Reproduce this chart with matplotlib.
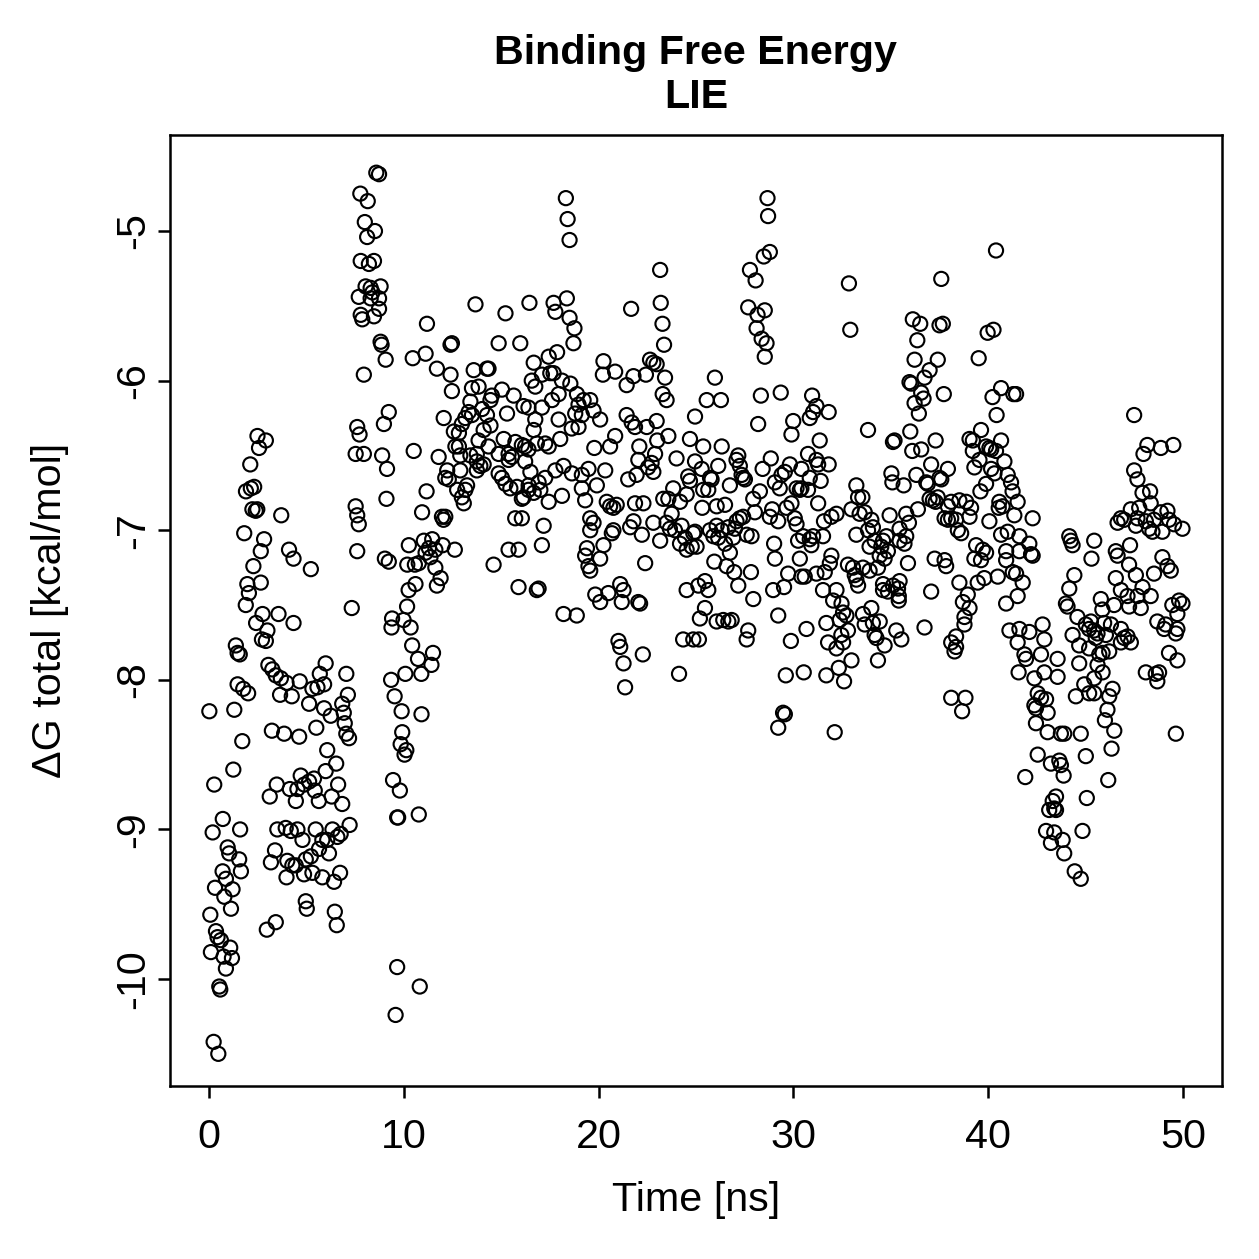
#!/usr/bin/env python3
"""
Binding free energy (LIE) over simulation time, R-style scatter plot.
"""

import numpy as np
import matplotlib
matplotlib.use("Agg")
import matplotlib.pyplot as plt

# (time [ns], dG total [kcal/mol]), split by time window
seg_0_8 = [
    (1.89, -7.50), (2.75, -7.56), (3.57, -7.56), (2.42, -7.62), (4.34, -7.62), (3.00, -7.67),
    (2.72, -7.73), (2.92, -7.74), (1.38, -7.77), (1.47, -7.82), (1.58, -7.83), (3.05, -7.90),
    (3.25, -7.93), (3.43, -7.97), (3.69, -7.99), (3.98, -8.02), (4.66, -8.01), (5.99, -7.89),
    (5.69, -7.96), (5.91, -8.03), (5.57, -8.05), (5.31, -8.06), (1.47, -8.03), (1.76, -8.06),
    (2.01, -8.09), (3.65, -8.10), (4.25, -8.11), (7.05, -7.96), (7.13, -8.10), (5.14, -8.16),
    (0.02, -8.21), (1.30, -8.20), (5.91, -8.19), (6.25, -8.24), (6.84, -8.16), (6.92, -8.22),
    (6.97, -8.29), (7.05, -8.36), (7.19, -8.39), (5.51, -8.32), (3.23, -8.34), (3.86, -8.36),
    (4.63, -8.38), (1.71, -8.41), (6.07, -8.47), (6.53, -8.56), (5.99, -8.61), (1.25, -8.60),
    (0.27, -8.70), (4.71, -8.64), (5.39, -8.66), (5.14, -8.68), (4.89, -8.70), (4.54, -8.73),
    (4.15, -8.73), (3.48, -8.70), (3.12, -8.78), (4.46, -8.81), (5.43, -8.74), (5.64, -8.81),
    (6.30, -8.78), (6.63, -8.70), (6.84, -8.83), (0.71, -8.93), (0.19, -9.02), (1.60, -9.00),
    (0.96, -9.12), (1.04, -9.16), (1.55, -9.20), (1.64, -9.28), (0.70, -9.28), (0.87, -9.33),
    (0.31, -9.39), (1.21, -9.40), (0.79, -9.45), (1.13, -9.53), (0.07, -9.57), (3.51, -9.00),
    (3.94, -8.99), (4.20, -9.01), (4.54, -9.00), (4.80, -9.07), (5.48, -9.00), (6.34, -9.00),
    (6.76, -9.03), (6.59, -9.05), (6.07, -9.07), (5.82, -9.07), (5.65, -9.13), (6.16, -9.16),
    (7.22, -8.97), (3.39, -9.14), (3.18, -9.22), (4.02, -9.21), (4.28, -9.24), (4.45, -9.24),
    (4.97, -9.20), (5.23, -9.18), (3.98, -9.32), (4.88, -9.30), (5.31, -9.29), (5.82, -9.32),
    (6.42, -9.35), (6.73, -9.29), (4.97, -9.48), (5.02, -9.53), (6.46, -9.55), (6.56, -9.64),
    (3.43, -9.62), (2.97, -9.67), (0.10, -9.82), (0.36, -9.68), (0.44, -9.72), (0.61, -9.74),
    (1.09, -9.79), (0.75, -9.85), (1.18, -9.86), (0.87, -9.93), (0.53, -10.05), (0.58, -10.07),
    (0.24, -10.42), (0.48, -10.50),
    (2.49, -6.37), (2.92, -6.40), (2.57, -6.45), (2.12, -6.56), (1.90, -6.74), (2.15, -6.72),
    (2.32, -6.71), (2.23, -6.86), (2.40, -6.87), (2.48, -6.86), (3.71, -6.90), (1.81, -7.02),
    (2.83, -7.06), (2.66, -7.14), (4.11, -7.13), (4.34, -7.19), (5.23, -7.26), (2.28, -7.24),
    (1.97, -7.36), (2.66, -7.35), (2.05, -7.42), (7.33, -7.52),
]

seg_8_13 = [
    (8.59, -4.61), (8.73, -4.62), (7.77, -4.75), (8.15, -4.80), (8.00, -4.94), (8.52, -5.00),
    (8.12, -5.04), (7.79, -5.20), (8.21, -5.22), (8.47, -5.20), (8.04, -5.37), (8.30, -5.38),
    (8.81, -5.37), (8.39, -5.41), (7.69, -5.44), (8.30, -5.45), (8.73, -5.45), (8.73, -5.52),
    (7.79, -5.56), (7.87, -5.59), (8.47, -5.57), (8.81, -5.74), (8.86, -5.76), (9.07, -5.86),
    (7.95, -5.96), (9.23, -6.21), (8.98, -6.29), (7.61, -6.31), (7.73, -6.36), (7.53, -6.49),
    (7.95, -6.49), (8.89, -6.50), (9.14, -6.59), (9.11, -6.79), (7.53, -6.84), (7.61, -6.90),
    (7.69, -6.96), (7.61, -7.14), (9.03, -7.19), (9.23, -7.21), (9.40, -7.59), (9.99, -7.60),
    (10.17, -7.51), (10.25, -7.40), (10.60, -7.36), (11.70, -7.37), (11.89, -7.32), (11.62, -7.25),
    (10.26, -7.10), (10.57, -7.23), (10.18, -7.23), (10.77, -7.22), (11.03, -7.07), (11.46, -7.06),
    (11.29, -7.12), (11.12, -7.15), (11.37, -7.18), (11.62, -7.13), (12.00, -7.10), (12.62, -7.13),
    (10.94, -6.88), (11.96, -6.91), (12.04, -6.93), (12.13, -6.91), (11.17, -6.74), (10.51, -6.47),
    (11.79, -6.51), (12.05, -6.25), (11.19, -5.62), (10.46, -5.85), (11.12, -5.82), (11.70, -5.92),
    (12.40, -5.96), (12.40, -5.76), (12.47, -5.75), (12.47, -6.07),
    (9.37, -7.65), (10.35, -7.65), (10.43, -7.77), (10.73, -7.86), (11.50, -7.82), (11.42, -7.90),
    (10.90, -7.96), (10.08, -7.96), (9.35, -8.00), (9.53, -8.11), (9.89, -8.21), (10.91, -8.23),
    (9.92, -8.35), (9.84, -8.43), (10.13, -8.47), (10.04, -8.50), (9.45, -8.67), (9.80, -8.74),
    (9.66, -8.92), (9.71, -8.92), (10.77, -8.90), (9.66, -9.92), (10.82, -10.05), (9.58, -10.24),
]

seg_13_25 = [
    (13.68, -5.49), (15.22, -5.55), (16.45, -5.48), (14.87, -5.75), (15.98, -5.75), (13.59, -5.93),
    (14.27, -5.92), (14.35, -5.92), (13.50, -6.05), (13.84, -6.04), (14.45, -6.13), (14.52, -6.10),
    (15.04, -6.06), (15.64, -6.10), (15.30, -6.22), (13.42, -6.14), (13.33, -6.21), (13.50, -6.23),
    (13.16, -6.25), (12.98, -6.29), (14.02, -6.19), (14.27, -6.23), (14.45, -6.30), (14.10, -6.33),
    (12.57, -6.34), (12.83, -6.35), (12.65, -6.44), (12.83, -6.44), (12.90, -6.50), (13.84, -6.40),
    (14.35, -6.44), (13.75, -6.49), (13.42, -6.50), (15.13, -6.39), (15.73, -6.41), (16.06, -6.43),
    (16.23, -6.44), (14.87, -6.49), (15.38, -6.49), (15.55, -6.51), (15.38, -6.53), (16.23, -6.54),
    (13.75, -6.54), (14.10, -6.56), (13.93, -6.57), (13.75, -6.60), (12.23, -6.60), (12.13, -6.65),
    (12.31, -6.66), (12.90, -6.60), (12.74, -6.73), (13.25, -6.70), (13.16, -6.73), (12.98, -6.78),
    (13.08, -6.82), (14.87, -6.62), (15.04, -6.65), (15.22, -6.69), (15.47, -6.72), (15.81, -6.71),
    (16.06, -6.79), (16.40, -6.73), (15.72, -6.92), (16.06, -6.92), (15.38, -7.13), (15.89, -7.13),
    (14.61, -7.23), (15.89, -7.38),
    (18.32, -4.78), (18.41, -4.92), (18.51, -5.06), (23.16, -5.26), (17.69, -5.48), (17.78, -5.54),
    (18.37, -5.45), (18.51, -5.58), (18.76, -5.65), (18.71, -5.75), (21.67, -5.52), (23.19, -5.48),
    (23.28, -5.62), (23.36, -5.76), (16.67, -5.88), (17.44, -5.84), (17.87, -5.81), (16.57, -6.00),
    (16.75, -6.04), (17.09, -5.96), (17.52, -5.95), (17.69, -5.95), (18.12, -6.00), (17.95, -6.09),
    (17.61, -6.13), (18.55, -6.02), (18.89, -6.09), (19.23, -6.13), (19.57, -6.13), (18.97, -6.16),
    (18.80, -6.22), (19.14, -6.23), (19.74, -6.20), (20.08, -6.26), (20.25, -5.87), (20.85, -5.94),
    (20.22, -5.96), (21.44, -6.03), (21.79, -5.97), (22.43, -5.96), (22.64, -5.86), (22.81, -5.88),
    (22.98, -5.89), (23.41, -5.98), (23.29, -6.09), (23.49, -6.13), (16.15, -6.17), (16.40, -6.18),
    (17.09, -6.18), (17.95, -6.26), (16.75, -6.26), (16.67, -6.33), (18.03, -6.39), (18.62, -6.32),
    (18.97, -6.31), (16.83, -6.42), (17.26, -6.42), (17.44, -6.44), (16.40, -6.46),
    (21.44, -6.23), (21.70, -6.28), (21.87, -6.31), (22.47, -6.31), (22.98, -6.27), (23.01, -6.40),
    (23.58, -6.37), (20.85, -6.37), (20.59, -6.44), (19.78, -6.45), (22.09, -6.44), (22.04, -6.53),
    (22.90, -6.49), (22.72, -6.55), (22.54, -6.58), (22.81, -6.61), (21.52, -6.66), (21.95, -6.63),
    (24.00, -6.52), (16.50, -6.61), (16.41, -6.70), (16.92, -6.68), (17.26, -6.65), (16.67, -6.75),
    (17.01, -6.73), (16.15, -6.78), (17.44, -6.81), (17.78, -6.60), (18.20, -6.57), (18.12, -6.77),
    (18.63, -6.62), (19.14, -6.63), (19.48, -6.59), (19.14, -6.72), (19.91, -6.70), (20.34, -6.60),
    (19.31, -6.80), (20.42, -6.81), (20.59, -6.84), (20.93, -6.83), (20.76, -6.85), (21.87, -6.82),
    (22.30, -6.82), (21.62, -6.98), (21.79, -6.94), (22.22, -7.03), (22.81, -6.95), (23.16, -7.07),
    (22.39, -7.22), (23.32, -6.79), (23.58, -6.79), (23.83, -6.72), (24.18, -6.81), (24.52, -6.76),
    (23.75, -6.89), (23.49, -6.95), (23.66, -6.99), (23.92, -7.00), (24.26, -6.97), (24.43, -7.05),
    (24.18, -7.09), (24.52, -7.13), (24.86, -7.02), (24.60, -6.64), (24.69, -6.67),
    (17.18, -6.97), (17.09, -7.10), (16.92, -7.39), (16.83, -7.40), (19.57, -6.92), (19.74, -6.95),
    (19.57, -7.00), (20.76, -7.00), (20.68, -7.02), (20.25, -7.10), (20.08, -7.19), (19.40, -7.12),
    (19.31, -7.17), (19.48, -7.24), (19.57, -7.27), (18.20, -7.56), (18.88, -7.57), (19.83, -7.43),
    (20.08, -7.48), (20.50, -7.42), (21.11, -7.36), (21.28, -7.40), (21.19, -7.48), (22.04, -7.48),
    (22.13, -7.49), (24.52, -7.40),
    (21.02, -7.74), (21.11, -7.78), (21.28, -7.89), (22.27, -7.83), (21.36, -8.05), (24.34, -7.73),
    (24.86, -7.73), (24.13, -7.96),
]

seg_25_33 = [
    (28.67, -4.78), (28.70, -4.90), (28.79, -5.14), (28.48, -5.17), (27.77, -5.26), (28.06, -5.33),
    (32.85, -5.35), (32.92, -5.66), (27.68, -5.51), (28.53, -5.53), (28.16, -5.56), (28.11, -5.65),
    (28.37, -5.72), (28.62, -5.75), (28.53, -5.84), (25.97, -5.98), (25.55, -6.13), (26.28, -6.13),
    (28.33, -6.10), (29.35, -6.08), (28.19, -6.29), (24.95, -6.24), (30.96, -6.10), (31.18, -6.17),
    (31.01, -6.21), (30.84, -6.25), (31.81, -6.21), (29.99, -6.27), (29.90, -6.36), (31.35, -6.40),
    (24.69, -6.39), (25.37, -6.44), (26.32, -6.44), (27.17, -6.50), (27.08, -6.53), (27.25, -6.57),
    (26.14, -6.57), (24.95, -6.54), (25.29, -6.59), (25.72, -6.65), (25.80, -6.66), (27.34, -6.63),
    (27.51, -6.66), (27.42, -6.65), (26.74, -6.70), (28.84, -6.52), (28.42, -6.59), (29.82, -6.56),
    (29.56, -6.61), (29.39, -6.63), (29.05, -6.68), (29.30, -6.72), (28.28, -6.74), (27.94, -6.79),
    (30.75, -6.49), (31.18, -6.53), (31.27, -6.56), (31.81, -6.56), (30.41, -6.59), (30.84, -6.65),
    (31.40, -6.67), (30.16, -6.72), (30.33, -6.73), (30.41, -6.72), (30.75, -6.73), (33.23, -6.70),
    (33.32, -6.78), (25.37, -6.73), (25.63, -6.73), (25.32, -6.85), (26.06, -6.84), (26.49, -6.83),
    (28.02, -6.88), (27.25, -6.92), (27.42, -6.91), (27.08, -6.94), (28.91, -6.86), (28.79, -6.91),
    (29.22, -6.94), (29.65, -6.85), (29.90, -6.82), (30.07, -6.92), (30.16, -6.96), (31.27, -6.82),
    (31.57, -6.94), (31.95, -6.91), (32.21, -6.89), (32.98, -6.86), (33.23, -7.03),
    (24.95, -7.01), (25.72, -7.00), (26.06, -6.97), (26.32, -7.00), (26.14, -7.05), (26.66, -6.98),
    (27.00, -6.99), (26.91, -7.05), (26.49, -7.09), (26.74, -7.15), (27.60, -7.03), (27.85, -7.04),
    (25.89, -7.04), (24.78, -7.11), (25.03, -7.11),
    (29.01, -7.09), (29.05, -7.19), (30.24, -7.07), (30.50, -7.04), (30.84, -7.06), (31.01, -7.04),
    (31.52, -7.04), (30.92, -7.10), (30.33, -7.19), (25.94, -7.21), (26.57, -7.24), (26.96, -7.28),
    (27.82, -7.28), (27.17, -7.37), (27.94, -7.46), (25.12, -7.37), (25.46, -7.34), (25.63, -7.40),
    (29.73, -7.29), (30.41, -7.31), (30.58, -7.31), (31.18, -7.29), (31.61, -7.28), (31.95, -7.17),
    (31.87, -7.22), (28.96, -7.40), (29.52, -7.38), (31.52, -7.40), (32.21, -7.40), (32.04, -7.47),
    (32.47, -7.49), (32.55, -7.55), (32.80, -7.23), (33.06, -7.25), (33.15, -7.30), (33.23, -7.33),
    (33.32, -7.37), (25.46, -7.52), (29.22, -7.57),
    (25.20, -7.59), (26.06, -7.61), (26.40, -7.60), (26.66, -7.61), (26.83, -7.60), (25.15, -7.73),
    (27.68, -7.67), (27.60, -7.73), (29.87, -7.74), (30.67, -7.66), (31.69, -7.62), (31.78, -7.75),
    (32.21, -7.79), (32.38, -7.60), (32.72, -7.57), (32.80, -7.67), (32.46, -7.70), (32.55, -7.75),
    (32.98, -7.87), (32.33, -7.92), (32.60, -8.01), (31.69, -7.97), (29.61, -7.97), (30.53, -7.95),
    (29.47, -8.22), (29.56, -8.23), (29.22, -8.32), (32.12, -8.35),
]

seg_33_42 = [
    (40.40, -5.13), (37.59, -5.32), (36.13, -5.59), (36.51, -5.62), (37.50, -5.63), (37.67, -5.62),
    (36.36, -5.73), (39.97, -5.68), (40.27, -5.66), (36.22, -5.86), (37.41, -5.86), (36.99, -5.93),
    (36.73, -5.98), (35.96, -6.01), (36.05, -6.02), (39.51, -5.85), (37.72, -6.09), (36.56, -6.08),
    (36.68, -6.12), (36.22, -6.15), (36.44, -6.22), (40.22, -6.11), (40.66, -6.05), (41.29, -6.09),
    (40.43, -6.23), (33.83, -6.33), (35.11, -6.41), (35.19, -6.40), (36.00, -6.34), (36.10, -6.47),
    (36.56, -6.46), (37.30, -6.40), (33.54, -6.78), (35.03, -6.62), (35.08, -6.68), (35.66, -6.70),
    (36.31, -6.63), (36.82, -6.68), (36.90, -6.69), (37.50, -6.65), (37.59, -6.66), (37.93, -6.59),
    (37.07, -6.56),
    (39.04, -6.39), (39.21, -6.40), (39.63, -6.33), (39.89, -6.44), (40.06, -6.45), (40.15, -6.46),
    (40.40, -6.47), (40.66, -6.40), (39.21, -6.47), (39.55, -6.53), (39.29, -6.58), (40.83, -6.54),
    (40.15, -6.59), (40.32, -6.62), (41.00, -6.63), (41.17, -6.68), (39.89, -6.69), (39.60, -6.74),
    (40.57, -6.81), (41.25, -6.74), (41.51, -6.81), (40.74, -6.84), (40.54, -6.85), (40.06, -6.94),
    (40.66, -7.03), (41.00, -7.01), (41.34, -6.90), (41.60, -7.04),
    (33.40, -6.89), (33.66, -6.88), (34.00, -6.93), (34.08, -6.98), (33.83, -7.00), (33.91, -7.11),
    (34.17, -7.07), (34.51, -7.11), (34.60, -7.07), (34.77, -7.04), (34.43, -7.17), (34.68, -7.19),
    (34.85, -7.14), (34.34, -7.25), (33.91, -7.27), (33.57, -7.25),
    (34.94, -6.90), (35.79, -6.89), (35.93, -6.95), (35.45, -6.99), (35.79, -7.04), (35.70, -7.09),
    (35.45, -7.07), (36.39, -6.86), (36.99, -6.79), (37.16, -6.80), (37.30, -6.81), (37.41, -6.78),
    (38.10, -6.81), (37.93, -6.84), (37.76, -6.92), (37.93, -6.93), (38.10, -6.92), (38.35, -6.93),
    (38.44, -7.00), (38.61, -7.02), (38.52, -6.80), (38.87, -6.81), (39.12, -6.85), (39.04, -6.91),
    (35.88, -7.22), (37.25, -7.19), (37.76, -7.20), (37.84, -7.24), (37.07, -7.41), (38.52, -7.35),
    (38.70, -7.48), (38.95, -7.43), (39.04, -7.52), (38.78, -7.58), (39.38, -7.10), (39.72, -7.13),
    (39.89, -7.15), (39.63, -7.20), (39.29, -7.19), (39.46, -7.35), (39.80, -7.32), (40.49, -7.31),
    (40.92, -7.14), (40.92, -7.20), (41.26, -7.28), (41.43, -7.29), (41.60, -7.14), (41.51, -7.44),
    (41.77, -7.35), (40.92, -7.49), (34.00, -7.52), (33.57, -7.56), (35.11, -7.37), (35.45, -7.34),
    (35.37, -7.39), (34.60, -7.40), (34.85, -7.41), (34.60, -7.36), (35.41, -7.44),
    (33.66, -7.63), (34.08, -7.62), (34.43, -7.61), (34.17, -7.70), (34.26, -7.72), (34.68, -7.77),
    (34.34, -7.87), (35.28, -7.67), (35.54, -7.73), (36.73, -7.65), (35.41, -7.47), (38.78, -7.63),
    (38.35, -7.71), (38.10, -7.75), (38.35, -7.78), (38.27, -7.81), (38.10, -8.12), (38.83, -8.12),
    (38.66, -8.21), (41.09, -7.67), (41.60, -7.66), (41.51, -7.75), (41.86, -7.83), (41.94, -7.86),
    (41.56, -7.95), (41.90, -8.65),
]

seg_42_50 = [
    (41.43, -6.09), (47.49, -6.23), (48.17, -6.43), (47.97, -6.49), (48.86, -6.45), (49.50, -6.43),
    (47.49, -6.60), (47.66, -6.66), (47.92, -6.75), (48.31, -6.74), (48.34, -6.82), (42.28, -6.92),
    (42.11, -7.09), (42.20, -7.16), (42.28, -7.17),
    (46.81, -6.92), (46.98, -6.93), (46.64, -6.95), (47.32, -6.86), (47.75, -6.85), (47.66, -6.92),
    (47.58, -6.97), (48.09, -6.94), (48.26, -6.99), (48.43, -7.01), (48.86, -6.88), (49.20, -6.87),
    (48.51, -6.93), (48.94, -7.01), (49.28, -6.93), (49.54, -6.96), (49.97, -6.99),
    (44.16, -7.04), (44.24, -7.07), (44.33, -7.10), (45.44, -7.07), (45.30, -7.19), (44.42, -7.30),
    (44.16, -7.39), (43.99, -7.49), (44.07, -7.51),
    (46.55, -7.14), (46.64, -7.17), (47.23, -7.23), (47.28, -7.10), (47.58, -7.30), (48.51, -7.29),
    (48.94, -7.18), (49.20, -7.24), (49.37, -7.27), (46.55, -7.32), (46.81, -7.40), (47.15, -7.44),
    (47.92, -7.38), (48.34, -7.44), (47.66, -7.44), (47.23, -7.51), (47.83, -7.52), (45.78, -7.46),
    (45.86, -7.53), (46.46, -7.50), (49.45, -7.50), (49.80, -7.47), (49.97, -7.49), (49.71, -7.56),
    (44.58, -7.58), (48.68, -7.61), (49.11, -7.63), (49.03, -7.66), (49.71, -7.66), (49.63, -7.69),
    (49.28, -7.82), (49.71, -7.87),
    (45.01, -7.63), (45.27, -7.61), (45.18, -7.66), (45.44, -7.67), (45.61, -7.69), (45.52, -7.72),
    (45.95, -7.62), (46.30, -7.63), (46.04, -7.70), (46.81, -7.66), (46.98, -7.72), (47.15, -7.71),
    (47.32, -7.75), (46.81, -7.75),
    (44.33, -7.70), (44.67, -7.77), (45.18, -7.79), (44.67, -7.89), (45.70, -7.83), (46.21, -7.81),
    (45.87, -7.82), (45.61, -7.90), (45.87, -7.95), (45.44, -7.99),
    (42.11, -7.68), (42.79, -7.63), (42.88, -7.73), (42.71, -7.83), (43.56, -7.86), (42.37, -7.99),
    (42.88, -7.95), (43.56, -7.98),
    (48.09, -7.95), (48.60, -7.96), (48.77, -7.95), (48.68, -8.01),
    (44.93, -8.03), (44.50, -8.11), (45.18, -8.09), (45.44, -8.09), (46.38, -8.06), (46.21, -8.11),
    (46.12, -8.20), (45.99, -8.27), (46.47, -8.34), (46.33, -8.46), (46.16, -8.67),
    (42.54, -8.09), (42.71, -8.12), (42.97, -8.13), (42.37, -8.17), (42.45, -8.19), (43.05, -8.22),
    (42.45, -8.29), (43.05, -8.35), (43.73, -8.36), (43.90, -8.36), (44.75, -8.36), (49.63, -8.36),
    (42.54, -8.50), (43.22, -8.56), (43.65, -8.54), (43.73, -8.57), (43.87, -8.64), (45.01, -8.51),
    (45.06, -8.79), (43.48, -8.78), (43.31, -8.81), (43.39, -8.86), (43.13, -8.87), (43.48, -8.87),
    (42.97, -9.01), (43.39, -9.02), (43.82, -9.07), (43.22, -9.09), (43.90, -9.16), (44.84, -9.01),
    (44.44, -9.28), (44.75, -9.33),
]

x_ticks = [0, 10, 20, 30, 40, 50]
y_ticks = [-10, -9, -8, -7, -6, -5]

plt.rcParams['font.family'] = ['Liberation Sans', 'DejaVu Sans']
FS = 16.5

pts = np.array(seg_0_8 + seg_8_13 + seg_13_25 + seg_25_33 + seg_33_42 + seg_42_50)
t, dg = pts[:, 0], pts[:, 1]

fig = plt.figure(figsize=(1259 / 180, 1259 / 180), dpi=180)
ax = fig.add_axes([170 / 1259, 1 - 1086 / 1259, 1052 / 1259, 951 / 1259])

ax.scatter(t, dg, s=32, facecolors='none', edgecolors='black', linewidths=0.85)

ax.set_xlim(-2.0, 52.0)
ax.set_ylim(-10.715, -4.358)
ax.set_xticks(x_ticks)
ax.set_xticklabels([str(v) for v in x_ticks])
ax.set_yticks(y_ticks)
ax.set_yticklabels([str(v) for v in y_ticks], rotation=90, va='center')

ax.tick_params(direction='out', length=4.8, width=1.0, labelsize=FS)
ax.tick_params(axis='x', pad=8.0)
ax.tick_params(axis='y', pad=2.5)
for s in ax.spines.values():
    s.set_linewidth(1.0)

ax.set_xlabel("Time [ns]", fontsize=FS, va='center')
ax.xaxis.set_label_coords(0.5, -0.12)
ax.set_ylabel("ΔG total [kcal/mol]", fontsize=FS, va='center')
ax.yaxis.set_label_coords(-0.114, 0.5)

ax.set_title("Binding Free Energy\nLIE", fontsize=FS, fontweight='bold',
             linespacing=1.2, pad=11)

fig.savefig("out.png", dpi=180, facecolor='white')
